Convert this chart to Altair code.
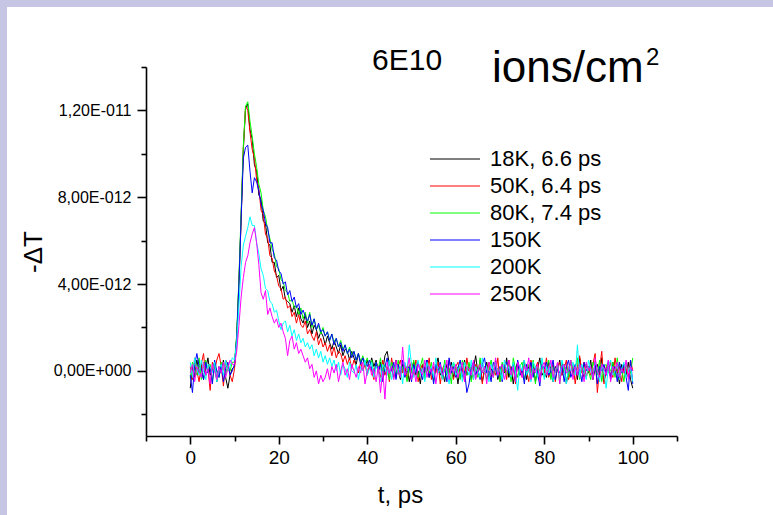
import altair as alt
import pandas as pd

# ---------------- data (values of -dT in units of 1e-12) ----------------
times = [i * 0.5 for i in range(201)]  # t, ps (sampling grid 0..100)

series_names = ["18K, 6.6 ps", "50K, 6.4 ps", "80K, 7.4 ps", "150K", "200K", "250K"]
series_colors = ["#000000", "#ff0000", "#00ff00", "#0000ff", "#00ffff", "#ff00ff"]

v_18K = [
    -0.8, 0.2, -0.3, 0.5, -0.1, 0.3, -0.4, 0.1, 0.6, -0.2, 0.0, 0.4, -0.5, 0.2, -0.1, 0.5, -0.3, -0.8, -0.2, 0.1,
    0.2, 1.6, 4.1, 7.1, 10.2, 12.1, 12.3, 11.1, 10.7, 9.5, 9.2, 8.1, 7.9, 6.9, 6.8, 5.9, 5.8, 5.0, 5.0, 4.3, 4.4,
    3.7, 3.9, 3.3, 3.2, 3.1, 2.7, 3.0, 2.5, 2.9, 2.4, 2.2, 2.6, 2.0, 2.3, 1.7, 2.1, 1.9, 1.5, 1.8, 1.6,
    1.2, 1.6, 1.3, 1.0, 1.4, 1.1, 0.8, 1.2, 0.7, 1.0, 0.9, 0.5, 0.9, 0.6, 0.3, 0.8, 0.4, 0.6, 0.2, 0.5,
    0.1, 0.6, 0.2, 0.5, -0.1, 0.4, 0.0, 0.7, 0.9, 0.3, 0.1, -0.3, 0.5, 0.0, -0.4, 0.3, -0.1, 0.2, -0.5, 0.1,
    0.4, -0.2, 0.0, -0.6, 0.3, -0.1, 0.5, -0.3, 0.1, -0.4, 0.2, 0.6, -0.2, 0.0, -0.5, 0.3, -0.1, 0.4, -0.3, 0.1,
    -0.6, 0.2, 0.0, 0.5, -0.2, 0.3, -0.4, 0.1, 0.7, -0.1, 0.2, -0.5, 0.0, 0.4, -0.3, 0.1, -0.2, 0.5, -0.4, 0.0,
    0.3, -0.1, 0.6, -0.3, 0.2, -0.6, 0.1, 0.4, -0.2, 0.0, 0.5, -0.4, 0.2, -0.1, 0.3, -0.5, 0.1, 0.6, -0.2, 0.0,
    -0.3, 0.4, 0.1, -0.5, 0.2, 0.0, 0.5, -0.2, 0.3, -0.6, 0.1, 0.4, -0.1, 0.2, -0.4, 0.6, 0.0, -0.3, 0.3, -0.1,
    0.5, -0.4, 0.1, 0.3, -0.2, 0.6, -0.5, 0.0, 0.2, -0.3, 0.4, -0.1, 0.1, -0.6, 0.3, 0.0, -0.2, 0.4, -0.4, -0.8,
]
v_50K = [
    0.2, -0.4, 0.6, 0.0, -0.5, 0.3, 0.8, -0.2, 0.1, -0.9, 0.4, 0.0, 0.5, 0.8, 0.2, -0.7, 0.5, 0.3, -0.2, -0.5,
    0.1, 1.4, 3.9, 7.0, 10.3, 12.2, 12.0, 11.0, 10.2, 9.8, 8.8, 8.4, 7.4, 7.2, 6.3, 6.1, 5.3, 5.2, 4.6, 4.4, 3.9,
    3.8, 3.3, 3.4, 2.9, 3.0, 2.5, 2.7, 2.2, 2.6, 2.1, 2.0, 2.3, 1.7, 1.9, 1.6, 1.4, 1.8, 1.2, 1.5, 1.1,
    1.3, 0.9, 1.2, 0.7, 1.1, 0.6, 0.9, 0.8, 0.4, 0.7, 0.3, 0.6, 0.1, 0.5, 0.2, -0.1, 0.4, 0.0, 0.3, -0.2,
    0.3, 0.0, -0.4, 0.4, 0.1, -0.3, 0.5, -0.2, 0.2, -0.5, 0.6, 0.0, -0.3, 0.2, 0.5, -0.1, 0.3, -0.4, 0.1, 0.4,
    -0.2, 0.5, -0.5, 0.1, 0.3, -0.3, 0.0, 0.6, -0.4, 0.2, -0.1, 0.4, -0.6, 0.1, 0.3, -0.2, 0.5, 0.0, -0.4, 0.2,
    0.4, -0.3, 0.1, -0.5, 0.6, 0.0, 0.2, -0.4, 0.3, -0.1, 0.5, -0.6, 0.2, 0.0, 0.4, -0.3, 0.1, -0.2, 0.6, -0.5,
    0.0, 0.3, -0.4, 0.5, -0.1, 0.2, -0.6, 0.4, 0.1, -0.3, 0.3, 0.0, -0.5, 0.5, -0.2, 0.1, 0.4, -0.4, 0.2, -0.1,
    0.6, -0.3, 0.0, 0.3, -0.5, 0.2, 0.4, -0.2, 0.1, 0.5, -0.4, 0.0, 0.3, -0.6, 0.2, 0.7, -0.1, 0.4, -0.3, 0.1,
    -0.2, 0.3, 0.8, -1.0, 0.1, 0.9, -0.6, 0.2, 0.0, 0.4, -0.3, 0.6, -0.1, 0.2, -0.5, 0.3, 0.1, -0.3, 0.5, 0.0,
]
v_80K = [
    -0.3, 0.4, 0.1, -0.2, 0.6, -0.4, 0.2, 0.5, -0.1, 0.3, -0.5, 0.2, 0.0, -0.3, 0.4, 0.1, -0.2, 0.3, 0.0, 0.4,
    0.4, 1.7, 4.3, 7.3, 10.4, 12.2, 12.4, 11.5, 10.8, 10.0, 9.4, 8.6, 8.2, 7.4, 7.1, 6.5, 6.1, 5.6, 5.4, 4.8, 4.7,
    4.2, 4.1, 3.7, 3.6, 3.2, 3.3, 2.9, 3.0, 2.6, 2.9, 2.4, 2.7, 2.2, 2.7, 2.0, 2.4, 1.9, 2.1, 1.7, 2.0,
    1.6, 1.8, 1.4, 1.7, 1.3, 1.5, 1.1, 1.4, 1.0, 1.2, 0.8, 1.1, 0.7, 0.9, 0.5, 0.8, 0.4, 0.7, 0.3, 0.6,
    0.2, 0.5, -0.1, 0.4, 0.1, 0.6, -0.2, 0.3, 0.0, -0.4, 0.4, 0.1, -0.2, 0.5, -0.3, 0.2, 0.0, -0.5, 0.3, -0.1,
    0.5, 0.0, -0.3, 0.2, 0.6, -0.4, 0.1, -0.1, 0.4, -0.5, 0.3, 0.0, 0.2, -0.3, 0.5, -0.2, 0.1, -0.6, 0.4, 0.0,
    0.2, -0.4, 0.5, 0.0, -0.2, 0.4, -0.5, 0.3, 0.1, -0.3, 0.6, -0.1, 0.2, -0.4, 0.0, 0.5, -0.3, 0.2, 0.1, -0.5,
    0.4, 0.0, -0.2, 0.3, -0.5, 0.6, 0.1, -0.3, 0.2, 0.4, -0.4, 0.0, 0.3, -0.2, 0.5, -0.6, 0.2, 0.0, 0.4, -0.3,
    0.1, 0.5, -0.4, 0.2, -0.1, 0.3, -0.6, 0.4, 0.0, 0.2, -0.3, 0.5, -0.2, 0.1, 0.6, -0.4, 0.2, -0.1, 0.3, 0.0,
    -0.4, 0.4, 0.1, -0.2, 0.5, -0.5, 0.2, 0.3, -0.1, 0.0, 0.4, -0.3, 0.6, -0.2, 0.1, -0.5, 0.3, 0.0, -0.1, 0.6,
]
v_150K = [
    -0.2, -1.0, 0.3, 0.8, 0.2, 0.1, -0.4, 0.4, -0.1, 0.2, -0.6, 0.5, 0.0, -0.3, 0.3, -0.5, 0.1, 0.4, -0.2, 0.0,
    0.3, 1.5, 4.0, 7.0, 9.8, 10.3, 10.4, 9.2, 8.2, 8.9, 8.7, 8.3, 7.7, 7.4, 6.8, 6.6, 5.9, 5.9, 5.2, 5.1, 4.6,
    4.5, 4.0, 4.1, 3.5, 3.7, 3.2, 3.4, 2.9, 3.1, 2.6, 2.8, 2.5, 2.3, 2.6, 2.1, 2.4, 1.9, 2.2, 1.8, 1.9,
    1.6, 1.8, 1.4, 1.7, 1.2, 1.5, 1.1, 1.3, 0.9, 1.2, 0.8, 1.0, 0.6, 0.9, 0.5, 0.8, 0.3, 0.6, 0.4, 0.2,
    0.5, 0.1, -0.2, 0.4, 0.0, 0.3, -0.5, 0.2, 0.6, -0.1, 0.0, 0.4, -0.4, 0.3, -0.1, 0.5, -0.3, 0.1, 0.2, -0.5,
    0.3, -0.1, 0.4, 0.0, -0.4, 0.2, 0.5, -0.3, 0.1, -0.6, 0.3, 0.0, 0.4, -0.2, 0.1, -0.5, 0.6, -0.1, 0.2, -0.3,
    0.1, 0.5, -0.3, 0.0, -1.0, -0.6, 0.2, 0.4, -0.2, 0.1, -0.4, 0.3, 0.6, -0.1, 0.0, -0.5, 0.4, 0.1, -0.3, 0.2,
    -0.5, 0.2, 0.4, -0.1, 0.0, 0.3, -0.4, 0.5, -0.2, 0.1, -0.6, 0.3, 0.0, 0.4, -0.3, 0.2, -0.1, -0.7, 0.3, 0.1,
    0.4, -0.2, 0.0, 0.5, -0.4, 0.1, -0.1, 0.3, -0.5, 0.2, 0.5, -0.3, 0.0, 0.3, -0.2, 0.1, -0.5, 0.4, 0.0, 0.2,
    0.1, -0.3, 0.4, -0.6, 0.2, 0.0, 0.3, -0.2, 0.5, -0.4, 0.1, 0.2, -0.5, 0.4, -0.1, 0.3, -0.3, -0.9, 0.5, -0.6,
]
v_200K = [
    0.4, -0.3, 0.6, 0.1, -0.2, 0.5, 0.0, -0.4, 0.3, 0.2, -0.1, 0.4, -0.5, 0.1, 0.3, -0.2, 0.5, 0.0, 0.2, 0.6,
    0.5, 1.3, 3.0, 4.8, 5.8, 6.2, 6.6, 7.1, 6.7, 6.7, 5.9, 5.4, 4.7, 4.4, 3.8, 3.7, 3.2, 3.1, 2.7, 2.8, 2.3,
    1.9, 2.2, 2.3, 1.8, 2.1, 1.6, 1.9, 1.4, 1.7, 1.3, 1.5, 1.1, 1.3, 1.0, 1.2, 0.7, 1.0, 0.6, 0.9, 0.4,
    0.7, 0.3, 0.6, 0.2, 0.5, 0.0, 0.4, -0.2, 0.3, 0.1, -0.3, 0.4, 0.0, -0.1, 0.3, -0.4, 0.2, 0.0, 0.5, -0.2,
    0.1, 0.4, -0.3, 0.2, 0.0, -0.5, 0.3, 0.1, -0.2, 0.5, -0.4, 0.0, 0.3, -0.1, 0.2, -0.6, 0.4, 0.0, 1.2, 0.3,
    -0.3, 0.2, 0.5, -0.2, 0.1, -0.5, 0.4, 0.0, 0.2, -0.3, 0.6, -0.1, 0.1, -0.4, 0.3, 0.0, -0.6, 0.2, 0.4, -0.2,
    0.0, 0.3, -0.5, 0.4, 0.1, -0.2, 0.5, -0.4, 0.2, 0.0, -0.3, 0.6, -0.1, 0.2, -0.5, 0.3, 0.0, 0.4, -0.2, 0.1,
    -0.4, 0.5, 0.0, 0.2, -0.3, 0.4, -0.1, -0.9, 0.3, 0.0, 0.5, -0.2, 0.1, -0.5, 0.4, 0.2, -0.3, 0.0, 0.6, -0.4,
    0.2, -0.1, 0.4, -0.5, 0.0, 0.3, -0.3, 0.5, 0.1, -0.6, 0.2, 0.0, 0.4, -0.2, 1.2, -0.3, 0.3, 0.0, -0.4, 0.5,
    0.0, -0.3, 0.4, 0.1, -0.5, 0.3, -0.1, -0.8, 0.2, 0.5, -0.2, 0.0, 0.3, -0.4, 0.1, 0.4, -0.3, 0.0, 0.2, -0.5,
]
v_250K = [
    -0.1, 0.3, -0.5, 0.2, 0.0, -0.3, 0.4, -0.2, 0.1, -0.6, 0.3, 0.0, -0.4, 0.2, -0.1, 0.4, -0.3, 0.1, 0.5, 0.3,
    0.3, 0.9, 2.1, 3.4, 4.3, 5.0, 5.3, 5.9, 6.3, 6.6, 5.9, 4.9, 3.6, 3.3, 3.7, 2.6, 2.9, 2.5, 2.2, 2.4, 2.0,
    2.2, 1.8, 1.5, 0.7, 1.4, 1.6, 1.0, 1.3, 0.8, 1.0, 0.7, 0.4, 0.6, 0.1, 0.3, -0.3, 0.0, -0.6, -0.2, -0.5,
    -0.3, 0.1, -0.4, 0.2, -0.1, 0.3, -0.5, 0.0, 0.4, -0.2, 0.1, -0.4, 0.3, 0.0, -0.3, 0.2, -0.1, 0.4, -0.6, 0.0,
    0.3, -0.2, 0.1, -0.5, 0.2, -1.0, 0.0, -1.3, 0.4, -0.1, 0.2, -0.4, 0.5, 0.0, -0.3, 1.1, -0.2, 0.1, 0.6, -0.4,
    0.1, -0.5, 0.3, 0.0, -0.2, 0.5, -0.3, 0.2, -0.1, 0.4, -0.6, 0.1, 0.3, -0.2, 0.0, 0.5, -0.4, 0.2, -0.1, 0.3,
    -0.3, 0.0, 0.4, -0.5, 0.2, 0.1, -0.2, 0.5, -0.4, 0.0, 0.3, -0.1, 0.2, -0.6, 0.4, 0.0, -0.3, 0.6, -0.2, 0.1,
    0.3, -0.4, 0.0, 0.5, -0.2, 0.2, -0.5, 0.4, 0.1, -0.3, 0.2, 0.0, 0.6, -0.4, 0.1, -0.1, 0.3, -0.5, 0.2, 0.4,
    -0.2, 0.1, 0.5, -0.3, 0.0, 0.4, -0.6, 0.2, 0.3, -0.1, 0.0, 0.5, -0.4, 0.2, -0.2, 0.3, 0.1, -0.5, 0.4, 0.0,
    0.2, -0.4, 0.6, 0.0, -0.3, 0.3, 0.1, -0.2, 0.5, -0.5, 0.2, 0.0, 0.4, -0.3, 0.1, -0.1, 0.5, -0.4, 0.2, 0.0,
]

x_major = [0, 20, 40, 60, 80, 100]
x_minor = [-10, 10, 30, 50, 70, 90, 110]
y_major = [0, 4, 8, 12]
y_major_labels = ["0,00E+000", "4,00E-012", "8,00E-012", "1,20E-011"]
y_minor = [-2, 2, 6, 10, 14]

# ---------------- table ----------------
series_values = [v_18K, v_50K, v_80K, v_150K, v_200K, v_250K]
rows = []
for name, vals in zip(series_names, series_values):
    assert len(vals) == len(times), (name, len(vals))
    for k, (t, v) in enumerate(zip(times, vals)):
        rows.append({"t": t, "v": v, "series": name, "k": k})
df = pd.DataFrame(rows)

FONT = "Liberation Sans"
LAV = "#c6c6e4"
x_scale = alt.Scale(domain=[-10, 110], nice=False, zero=False)
y_scale = alt.Scale(domain=[-3, 14], nice=False, zero=False)

label_expr = ""
for val, lab in zip(y_major[:-1], y_major_labels[:-1]):
    label_expr += f"datum.value == {val} ? '{lab}' : "
label_expr += f"'{y_major_labels[-1]}'"

axis_common = dict(grid=False, domainColor="black", tickColor="black",
                   labelColor="black", titleColor="black", labelFont=FONT,
                   titleFont=FONT, titleFontWeight="normal")

lines = alt.Chart(df).mark_line(strokeWidth=1).encode(
    x=alt.X("t:Q", scale=x_scale, axis=alt.Axis(
        orient="bottom", values=x_major, tickSize=8, tickWidth=1.6, domainWidth=1.6,
        labelFontSize=19, labelPadding=4, title="t, ps", titleFontSize=24,
        titleX=254, titleY=66, titleAlign="center", titleBaseline="alphabetic",
        **axis_common)),
    y=alt.Y("v:Q", scale=y_scale, axis=alt.Axis(
        orient="left", values=y_major, labelExpr=label_expr, tickSize=9, tickWidth=1.6,
        domainWidth=1.6, labelFontSize=16, labelPadding=6, title="-ΔT", titleFontSize=26,
        titleX=-105, titleY=184.5, titleAngle=270, titleAlign="center",
        titleBaseline="alphabetic", **axis_common)),
    color=alt.Color("series:N", scale=alt.Scale(domain=series_names, range=series_colors),
                    legend=alt.Legend(orient="none", legendX=298, legendY=81, title=None,
                                      symbolType="M-5,0H5", symbolSize=100,
                                      symbolStrokeWidth=1, labelFontSize=22, labelFont=FONT,
                                      labelColor="black", labelOffset=24, rowPadding=5,
                                      padding=0)),
    order=alt.Order("k:Q"),
)

minor_df = pd.DataFrame({"t": [x_minor[0], x_minor[-1]], "v": [y_minor[0], y_minor[-1]]})
minor = alt.Chart(minor_df).mark_point(opacity=0).encode(
    x=alt.X("t:Q", scale=x_scale, axis=alt.Axis(
        orient="bottom", values=x_minor, labels=False, domain=False, tickSize=5,
        tickWidth=1.6, title="", tickColor="black", grid=False)),
    y=alt.Y("v:Q", scale=y_scale, axis=alt.Axis(
        orient="left", values=y_minor, labels=False, domain=False, tickSize=5,
        tickWidth=1.6, title="", tickColor="black", grid=False)),
)

dummy = pd.DataFrame({"a": [0]})


def text_mark(txt, x, y, size):
    return alt.Chart(dummy).mark_text(
        text=txt, font=FONT, fontSize=size, align="left", baseline="alphabetic",
        color="black").encode(x=alt.value(x), y=alt.value(y))


border_left = alt.Chart(dummy).mark_rect(color=LAV).encode(
    x=alt.value(-146), x2=alt.value(-139), y=alt.value(-67), y2=alt.value(448))
border_top = alt.Chart(dummy).mark_rect(color=LAV).encode(
    x=alt.value(-146), x2=alt.value(627), y=alt.value(-67), y2=alt.value(-60))

t1 = text_mark("6E10", 226, 3, 30)
t2 = text_mark("ions/cm", 346, 15, 44)
t3 = text_mark("2", 500, -2, 24)

chart = alt.layer(border_left, border_top, lines, minor, t1, t2, t3).resolve_axis(
    x="independent", y="independent"
).properties(
    width=531, height=369,
    padding={"left": 146, "top": 67, "right": 96, "bottom": 79},
    autosize=alt.AutoSizeParams(type="none"),
    background="white",
).configure_view(strokeWidth=0)

chart.save("out.html", embed_options={"renderer": "svg", "actions": False})
